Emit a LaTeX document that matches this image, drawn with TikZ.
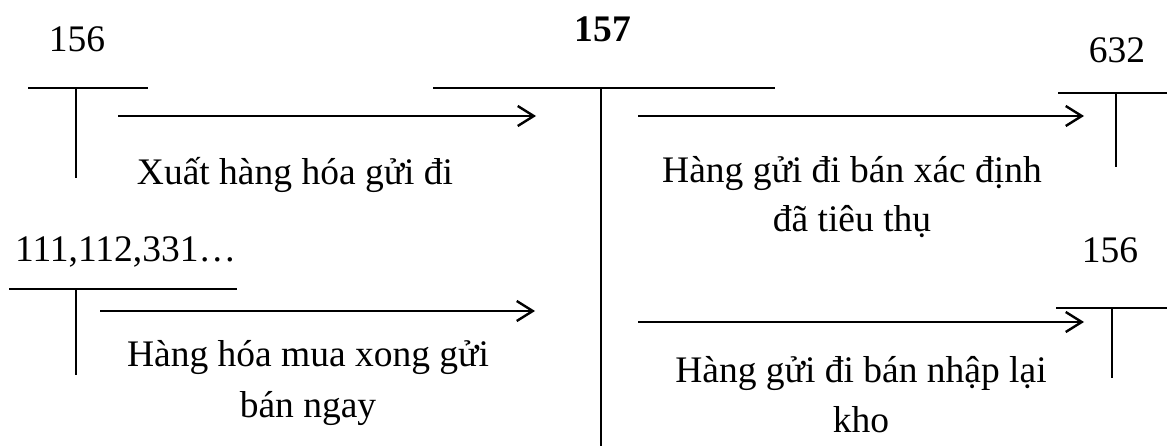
\documentclass[tikz,border=0pt]{standalone}
\usepackage{fontspec}
\setmainfont{Liberation Serif}
\usetikzlibrary{arrows.meta}
\begin{document}
\begin{tikzpicture}[x=1pt,y=-1pt,
  lbl/.style={font=\fontsize{37.5}{45}\selectfont, inner sep=0pt, anchor=base},
  tline/.style={line width=1.8pt},
  flow/.style={line width=2.6pt, -{Straight Barb[length=16pt,width=20pt,line width=2.4pt]}}]
\useasboundingbox (0,0) rectangle (1167,446);

% account titles
\node[lbl] (t156a) at (77,52) {156};
\node[lbl, font=\fontsize{37.5}{45}\selectfont\bfseries] (t157) at (603,42) {157};
\node[lbl] (t632) at (1117,63) {632};
\node[lbl, anchor=base west] (t111) at (15,262) {111,112,331…};
\node[lbl] (t156b) at (1110,263) {156};

% T-accounts
\coordinate (h156aL) at (28,88);  \coordinate (h156aR) at (148,88);
\coordinate (v156aT) at (76,88);  \coordinate (v156aB) at (76,178);
\draw[tline] (h156aL) -- (h156aR) (v156aT) -- (v156aB);

\coordinate (h157L) at (433,88);  \coordinate (h157R) at (775,88);
\coordinate (v157T) at (601,88);  \coordinate (v157B) at (601,446);
\draw[tline] (h157L) -- (h157R) (v157T) -- (v157B);

\coordinate (h632L) at (1058,93); \coordinate (h632R) at (1167,93);
\coordinate (v632T) at (1116,93); \coordinate (v632B) at (1116,167);
\draw[tline] (h632L) -- (h632R) (v632T) -- (v632B);

\coordinate (h111L) at (9,289);   \coordinate (h111R) at (237,289);
\coordinate (v111T) at (76,289);  \coordinate (v111B) at (76,375);
\draw[tline] (h111L) -- (h111R) (v111T) -- (v111B);

\coordinate (h156bL) at (1056,308); \coordinate (h156bR) at (1167,308);
\coordinate (v156bT) at (1112,308); \coordinate (v156bB) at (1112,378);
\draw[tline] (h156bL) -- (h156bR) (v156bT) -- (v156bB);

% flows
\coordinate (a1s) at (118,116);  \coordinate (a1e) at (536,116);
\coordinate (a2s) at (638,116);  \coordinate (a2e) at (1084,116);
\coordinate (a3s) at (100,311);  \coordinate (a3e) at (535,311);
\coordinate (a4s) at (638,322);  \coordinate (a4e) at (1084,322);
\draw[flow] (a1s) -- (a1e);
\draw[flow] (a2s) -- (a2e);
\draw[flow] (a3s) -- (a3e);
\draw[flow] (a4s) -- (a4e);

% flow labels
\node[lbl] (x1) at (295,185) {Xuất hàng hóa gửi đi};
\node[lbl] (x2a) at (852,183) {Hàng gửi đi bán xác định};
\node[lbl] (x2b) at (852,232) {đã tiêu thụ};
\node[lbl] (x3a) at (308,366) {Hàng hóa mua xong gửi};
\node[lbl] (x3b) at (308,417) {bán ngay};
\node[lbl] (x4a) at (861,382) {Hàng gửi đi bán nhập lại};
\node[lbl] (x4b) at (861,432) {kho};
\end{tikzpicture}
\end{document}
